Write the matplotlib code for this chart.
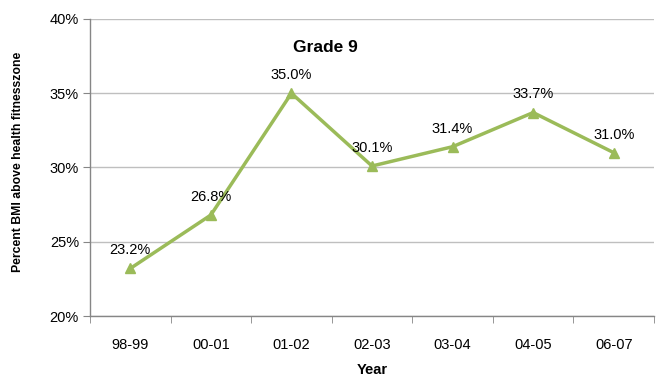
import matplotlib
matplotlib.use("Agg")
import matplotlib.pyplot as plt
from matplotlib.ticker import FuncFormatter, FixedLocator

plt.rcParams['font.family'] = ['Liberation Sans', 'DejaVu Sans']

years = ["98-99", "00-01", "01-02", "02-03", "03-04", "04-05", "06-07"]
values = [23.2, 26.8, 35.0, 30.1, 31.4, 33.7, 31.0]
labels = ["23.2%", "26.8%", "35.0%", "30.1%", "31.4%", "33.7%", "31.0%"]

fig = plt.figure(figsize=(6.58, 3.77), dpi=100)
ax = fig.add_axes([90/658, 1-316/377, (654-90)/658, (316-19)/377])

green = "#9BBB59"
x = list(range(len(years)))
ax.plot(x, values, color=green, lw=2.5, marker="^", markersize=7, markeredgecolor=green)
for xi, v, lab in zip(x, values, labels):
    ax.annotate(lab, (xi, v), xytext=(0, 8), textcoords="offset points",
                ha="center", va="bottom", fontsize=10.5, color="#000000")

ax.set_xlim(-0.5, len(years) - 0.5)
ax.set_ylim(20, 40)
ax.set_yticks([20, 25, 30, 35, 40])
ax.yaxis.set_major_formatter(FuncFormatter(lambda v, p: f"{v:.0f}%"))
ax.set_xticks(x)
ax.set_xticklabels(years)
ax.xaxis.set_minor_locator(FixedLocator([i - 0.5 for i in range(len(years) + 1)]))
ax.tick_params(axis="x", which="major", length=0, pad=16, labelsize=10.5)
ax.tick_params(axis="x", which="minor", length=5, color="#868686", direction="out")
ax.tick_params(axis="y", length=5, color="#868686", labelsize=10.5, pad=3)

ax.grid(axis="y", color="#BFBFBF", lw=1)
ax.set_axisbelow(True)
for s in ["top", "right"]:
    ax.spines[s].set_visible(False)
for s in ["left", "bottom"]:
    ax.spines[s].set_color("#868686")
    ax.spines[s].set_linewidth(1)

ax.text(0.417, 0.905, "Grade 9", transform=ax.transAxes, ha="center", va="center",
        fontsize=12.5, fontweight="bold")
ax.set_xlabel("Year", fontsize=10.5, fontweight="bold", labelpad=8)
fig.text(18/658, 1-162/377, "Percent BMI above health fitnesszone", rotation=90,
         ha="center", va="center", fontsize=8.8, fontweight="bold")

fig.savefig("out.png", dpi=100)
